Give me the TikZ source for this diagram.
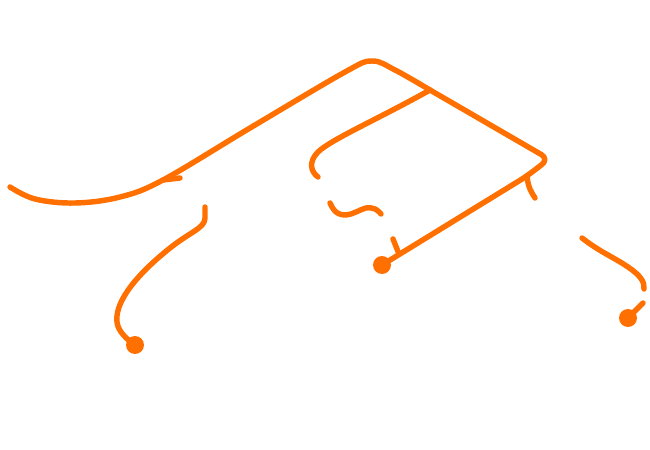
\documentclass[tikz,border=0pt]{standalone}
\usetikzlibrary{calc}
\definecolor{treeorange}{RGB}{255,112,0}
\tikzset{
  branch/.style={draw=treeorange,line width=3.1pt,line cap=round,line join=round},
  leaf/.style={circle,fill=treeorange,inner sep=0pt,minimum size=0.36cm}
}

\begin{document}
\begin{tikzpicture}[x=0.02cm,y=-0.02cm]
  \useasboundingbox (0,0) rectangle (650,450);

  \node[leaf] (leafa) at (135,345) {};
  \node[leaf] (leafb) at (382,265) {};
  \node[leaf] (leafc) at (628,318) {};
  \coordinate (top) at (430,90);
  \coordinate (fork) at (163,180);
  \coordinate (bend) at (527,176);
  \coordinate (joint) at (399,254);

  % main stem
  \draw[branch] plot[smooth,tension=0.6] coordinates {(10,187) (35,199) (75,203) (120,197) (fork) (250,128) (345,72) (372,61) (395,70) (top)};
  \draw[branch,rounded corners=5pt] (top) -- (549,159) -- (bend) -- (leafb.center);
  \draw[branch] (fork) -- (180,178);

  % inner branches
  \draw[branch] (top) .. controls (380,118) and (330,140) .. (318,152) .. controls (308,162) and (311,172) .. (318,177);
  \draw[branch] plot[smooth,tension=0.7] coordinates {(330,203) (336,212) (346,215) (356,212) (366,208) (375,209) (381,214)};
  \draw[branch] (393,239) -- (joint);
  \draw[branch] (bend) .. controls (528,188) and (532,193) .. (535,198);

  % left and right hanging ends
  \draw[branch] (205,207) -- (205,218) .. controls (205,228) and (190,232) .. (170,248) .. controls (130,280) and (115,305) .. (117,322) .. controls (118,332) and (128,340) .. (leafa.center);
  \draw[branch] (582,238) .. controls (600,252) and (615,258) .. (628,267) .. controls (640,275) and (645,282) .. (644,289);
  \draw[branch] (643,303) -- (leafc.center);
\end{tikzpicture}
\end{document}
